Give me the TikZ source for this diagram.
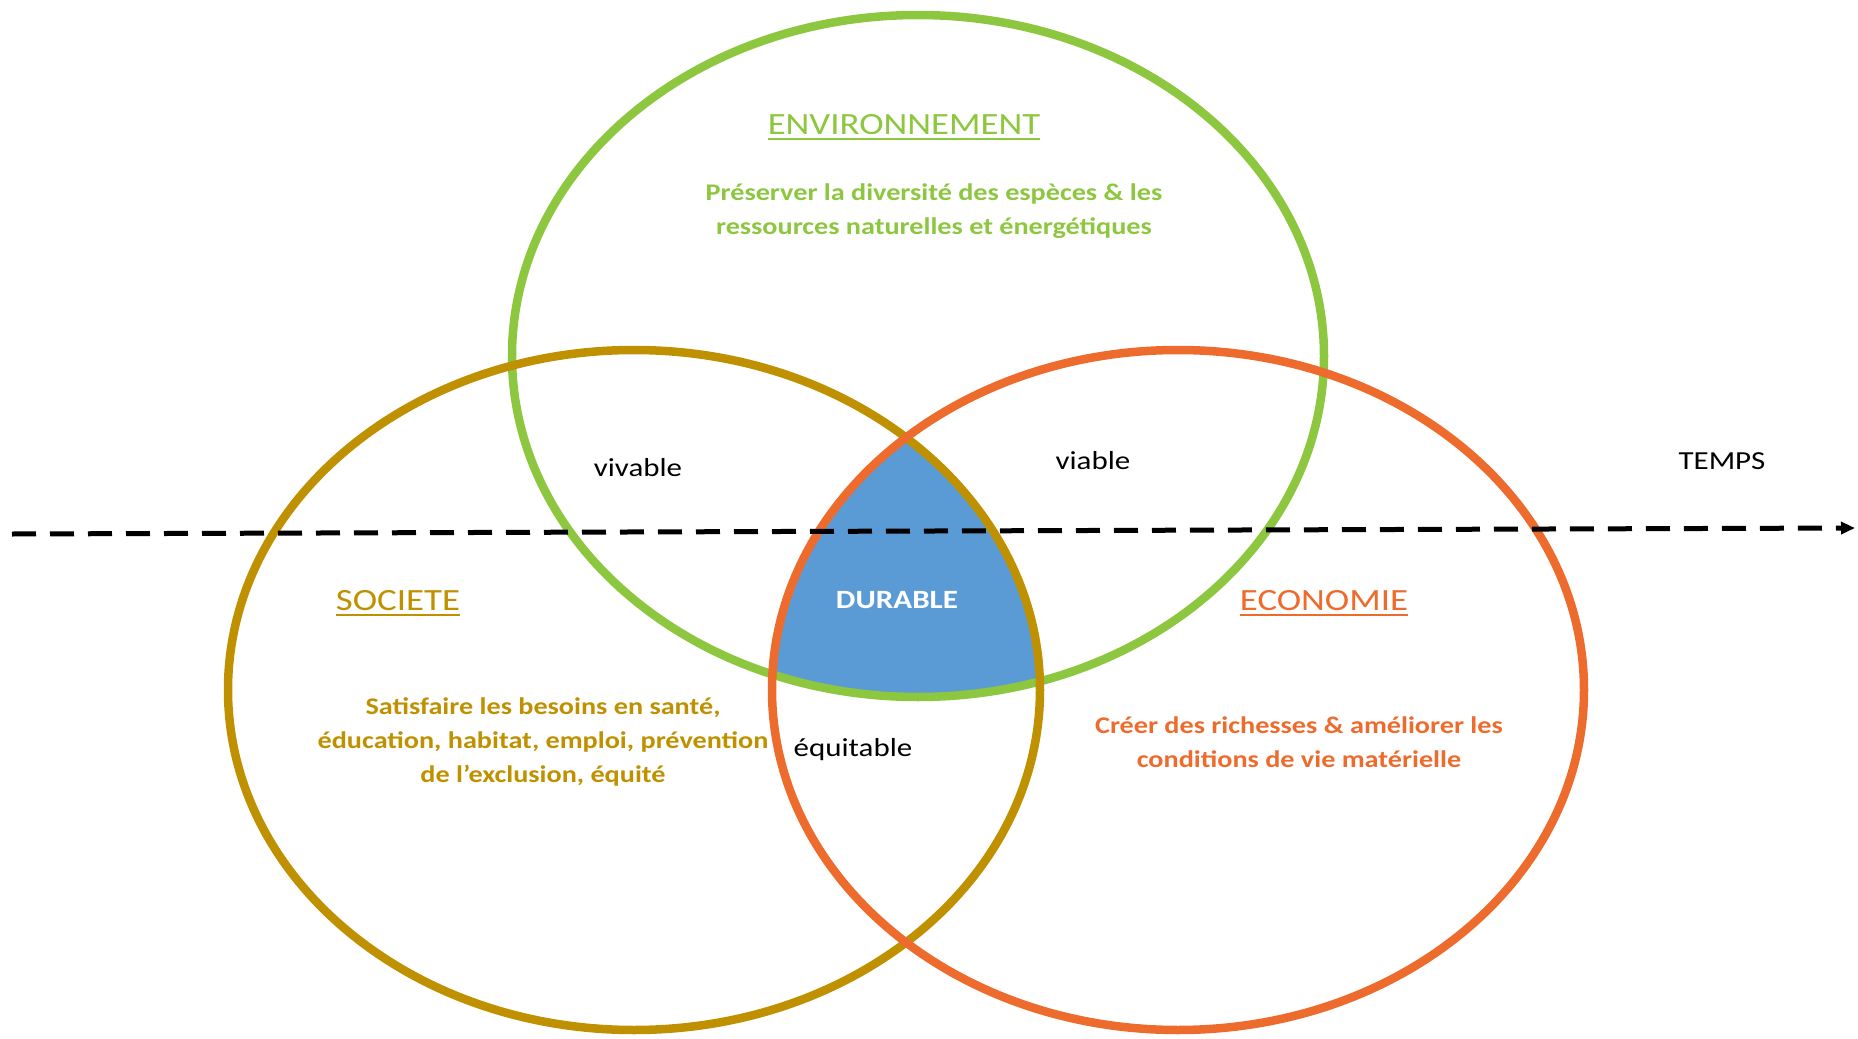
\documentclass[tikz,border=0pt]{standalone}
\usepackage{fontspec}
\setmainfont{Carlito}
\usepackage{xcolor}
\usetikzlibrary{arrows.meta}

\definecolor{vertenv}{RGB}{141,198,63}
\definecolor{ocresoc}{RGB}{191,144,0}
\definecolor{orangeeco}{RGB}{237,108,45}
\definecolor{bleudur}{RGB}{91,155,213}

\begin{document}
\begin{tikzpicture}[
    cercle/.style={line width=0.85mm},
    titre/.style={font=\fontsize{8.8}{10}\selectfont, anchor=base, xscale=1.19},
    texte/.style={font=\bfseries\fontsize{6.8}{9.7}\selectfont, align=center, xscale=1.18},
    mot/.style={font=\fontsize{7.4}{9}\selectfont, xscale=1.19},
    temps/.style={line width=0.5mm, dash pattern=on 2.4mm off 1.4mm, -{Triangle[length=1.4mm, width=1.2mm]}}
  ]
    \useasboundingbox (0,0) rectangle (18.58,10.38);

    % zone commune
    \begin{scope}
    \clip (9.18,6.82) ellipse [x radius=4.06, y radius=3.41];
    \clip (6.34,3.48) ellipse [x radius=4.06, y radius=3.40];
    \fill[bleudur] (11.78,3.48) ellipse [x radius=4.06, y radius=3.40];
    \end{scope}

    \draw[cercle, vertenv] (9.18,6.82) ellipse [x radius=4.06, y radius=3.41];
    \draw[cercle, ocresoc] (6.34,3.48) ellipse [x radius=4.06, y radius=3.40];
    \draw[cercle, orangeeco] (11.78,3.48) ellipse [x radius=4.06, y radius=3.40];

    \node[titre, vertenv] (env) at (9.04,9.04) {\underline{ENVIRONNEMENT}};
    \node[texte, vertenv] (envtexte) at (9.34,8.27) {Préserver la diversité des espèces \& les\\ressources naturelles et énergétiques};

    \node[titre, ocresoc] (soc) at (3.98,4.28) {\underline{SOCIETE}};
    \node[texte, ocresoc] (soctexte) at (5.43,2.96) {Satisfaire les besoins en santé,\\éducation, habitat, emploi, prévention\\de l’exclusion, équité};

    \node[titre, orangeeco] (eco) at (13.24,4.28) {\underline{ECONOMIE}};
    \node[texte, orangeeco] (ecotexte) at (12.99,2.955) {Créer des richesses \& améliorer les\\conditions de vie matérielle};

    \node[texte, white, font=\bfseries\fontsize{7.5}{9}\selectfont] (durable) at (8.97,4.38) {DURABLE};

    \node[mot] (vivable) at (6.38,5.70) {vivable};
    \node[mot] (viable) at (10.93,5.77) {viable};
    \node[mot] (equitable) at (8.53,2.88) {équitable};
    \node[mot] (tempsmot) at (17.22,5.77) {TEMPS};

    \coordinate (tdebut) at (0.12,5.04);
    \coordinate (tfin) at (18.55,5.10);
    \draw[temps] (tdebut) -- (tfin);
\end{tikzpicture}
\end{document}
